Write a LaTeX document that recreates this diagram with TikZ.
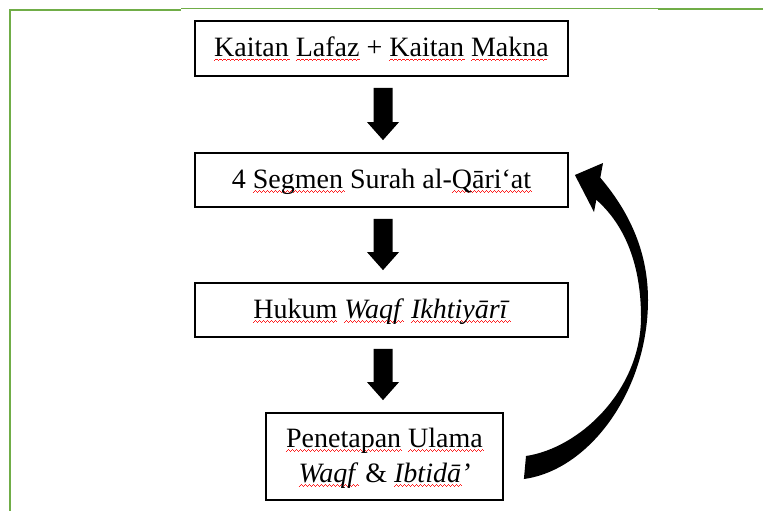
\documentclass[tikz,border=0pt]{standalone}
\usepackage{fontspec}
\setmainfont{Liberation Serif}
\usetikzlibrary{calc}
\definecolor{bordergreen}{HTML}{70AD47}
\definecolor{spellred}{HTML}{FF2020}
\newcount\wavecnt
\newcommand\wavebit{\rule[0pt]{1pt}{0.7pt}\rule[0.7pt]{1pt}{0.7pt}\rule[1.4pt]{1pt}{0.7pt}\rule[0.7pt]{1pt}{0.7pt}}
\newcommand\sq[1]{\setbox0\hbox{#1}%
  \rlap{\lower4.2pt\hbox{\color{spellred}\wavecnt=\numexpr\wd0/262144\relax
    \loop\ifnum\wavecnt>0 \wavebit\advance\wavecnt by -1 \repeat}}\box0\relax}
\newcommand\blockarrow[2]{%
  \fill let \p1=(#1.south), \p2=(#2.north) in
    (\x1-8pt,\y1-11pt) -- (\x1+11pt,\y1-11pt) -- (\x1+11pt,\y2+30pt) --
    (\x1+17.5pt,\y2+30pt) -- (\x1+1.5pt,\y2+12pt) -- (\x1-14.5pt,\y2+30pt) --
    (\x1-8pt,\y2+30pt) -- cycle;}
\begin{document}
\begin{tikzpicture}[x=1pt,y=-1pt,
  box/.style={draw=black, line width=1.8pt, inner sep=0pt,
    text height=20pt, text depth=4pt, align=center,
    font=\fontsize{28}{35}\selectfont},
  frame/.style={bordergreen, line width=2pt, line join=miter}]
\useasboundingbox (0,0) rectangle (763,511);
% green page frame
\draw[frame] (10,511) -- (10,10) -- (181,10);
\draw[bordergreen, line width=1pt] (181,8.3) -- (658,8.3);
\draw[frame] (658,9.3) -- (763,9.3);
% boxes
\node[box, minimum width=373pt, minimum height=55pt] (b1) at (381.5,48.5)
  {\sq{Kaitan} \sq{Lafaz} + \sq{Kaitan} \sq{Makna}};
\node[box, minimum width=373pt, minimum height=54pt] (b2) at (381.5,180)
  {4 \sq{Segmen} Surah al-\sq{Qāri‘at}};
\node[box, minimum width=373pt, minimum height=54pt] (b3) at (381.5,310)
  {\sq{Hukum} \sq{\textit{Waqf}} \sq{\textit{Ikhtiyārī}}};
\node[box, minimum width=237pt, minimum height=87pt, text height=55pt] (b4) at (384.5,456.5)
  {\sq{Penetapan} \sq{Ulama}\\ \sq{\textit{Waqf}} \& \sq{\textit{Ibtidā}}\textit{’}};
% block arrows
\blockarrow{b1}{b2}
\blockarrow{b2}{b3}
\blockarrow{b3}{b4}
% curved return arrow from b4 to b2
\coordinate (ctip) at ($(b2.east)+(6,-5)$);
\coordinate (ctail) at ($(b4.east)+(20,22.5)$);
\fill (ctip) -- (603,163) -- (600.3,177.7)
  .. controls (632,215) and (648,255) .. (648,300)
  .. controls (648,390) and (590,470) .. (ctail)
  -- (526,456)
  .. controls (580,448) and (641,390) .. (641,317)
  .. controls (641,265) and (625,225) .. (596.3,199.8)
  -- (594,212) -- cycle;
\end{tikzpicture}
\end{document}
